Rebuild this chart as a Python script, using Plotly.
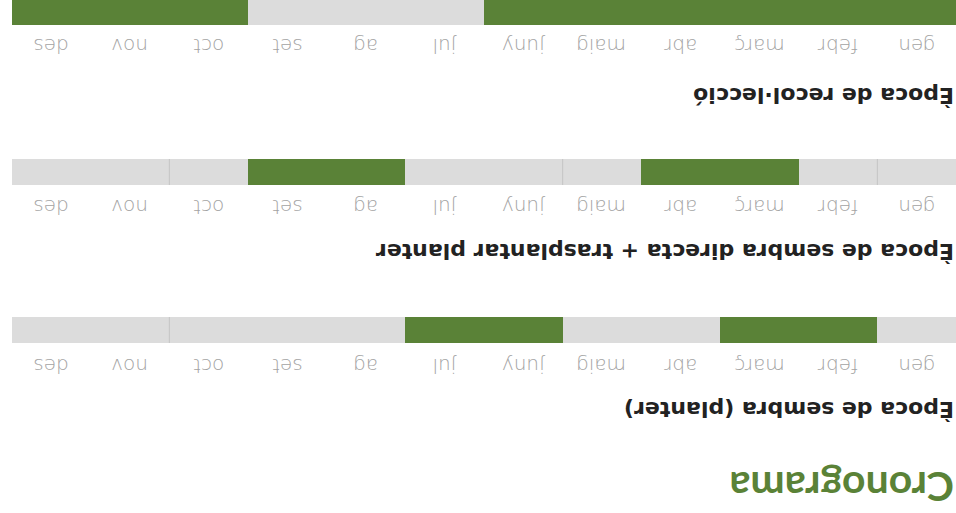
import plotly.graph_objects as go

# ---- data ----
months = ["gen", "febr", "març", "abr", "maig", "juny", "jul", "ag", "set", "oct", "nov", "des"]
section_titles = ["Època de sembra (planter)",
                  "Època de sembra directa + trasplantar planter",
                  "Època de recol·lecció"]
planter = [0, 1, 1, 0, 0, 1, 1, 0, 0, 0, 0, 0]
directa = [0, 0, 1, 1, 0, 0, 0, 1, 1, 0, 0, 0]
recollecio = [1, 1, 1, 1, 1, 1, 0, 0, 0, 1, 1, 1]
series = [planter, directa, recollecio]
# boundaries (between month index i and i+1) where a faint divider shows
dividers = [[9], [0, 4, 9], []]
chart_title = "Cronograma"

GREEN = "#5a8237"
GREY = "#dcdcdc"
W, H = 956, 513

def py(p):
    return 1 - p / H

# pixel layout (in the displayed, upside-down picture)
bar_px = [(317, 343), (159, 185), (0, 25)]
label_px = [366, 207, 46]
head_px = [410, 252, 95]

fig = go.Figure()
annotations = []
shapes = []
for k in range(3):
    ax = "" if k == 0 else str(k + 1)
    fig.add_trace(go.Heatmap(
        x=months, y=[0], z=[series[k]], zmin=0, zmax=1,
        colorscale=[[0, GREY], [0.5, GREY], [0.5, GREEN], [1, GREEN]],
        showscale=False, hoverinfo="skip",
        xaxis="x" + ax, yaxis="y" + ax, xgap=0, ygap=0))
    top, bot = bar_px[k]
    fig.layout["xaxis" + ax] = dict(domain=[0, 1], autorange="reversed", type="category",
                                    showticklabels=False, showgrid=False, zeroline=False,
                                    anchor="y" + ax, fixedrange=True)
    fig.layout["yaxis" + ax] = dict(domain=[py(bot), py(top)], range=[-0.5, 0.5],
                                    showticklabels=False, showgrid=False, zeroline=False,
                                    anchor="x" + ax, fixedrange=True)
    for m in months:
        annotations.append(dict(x=m, y=py(label_px[k]), xref="x" + ax, yref="paper",
                                text=m, showarrow=False, textangle=180,
                                xanchor="center", yanchor="middle",
                                font=dict(family="DejaVu Sans", size=20, color="#a3a3a3", weight=300)))
    annotations.append(dict(x=1, y=py(head_px[k]), xref="paper", yref="paper",
                            text="<b>" + section_titles[k] + "</b>", showarrow=False,
                            textangle=180, xanchor="right", yanchor="middle",
                            font=dict(family="DejaVu Sans", size=22, color="#222222")))
    for b in dividers[k]:
        shapes.append(dict(type="line", xref="x" + ax, yref="y" + ax + " domain",
                           x0=b + 0.5, x1=b + 0.5, y0=0, y1=1,
                           line=dict(color="#c4c4c4", width=1)))

annotations.append(dict(x=1, y=py(488), xref="paper", yref="paper",
                        text="<b>" + chart_title + "</b>", showarrow=False, textangle=180,
                        xanchor="right", yanchor="middle",
                        font=dict(family="Lato", size=41, color=GREEN)))

fig.update_layout(width=W, height=H, margin=dict(l=12, r=0, t=0, b=0),
                  paper_bgcolor="white", plot_bgcolor="white",
                  annotations=annotations, shapes=shapes, showlegend=False)
fig.write_html("out.html", config={"displayModeBar": False},
               post_script="document.body.style.margin='0';document.body.style.overflow='hidden';")
